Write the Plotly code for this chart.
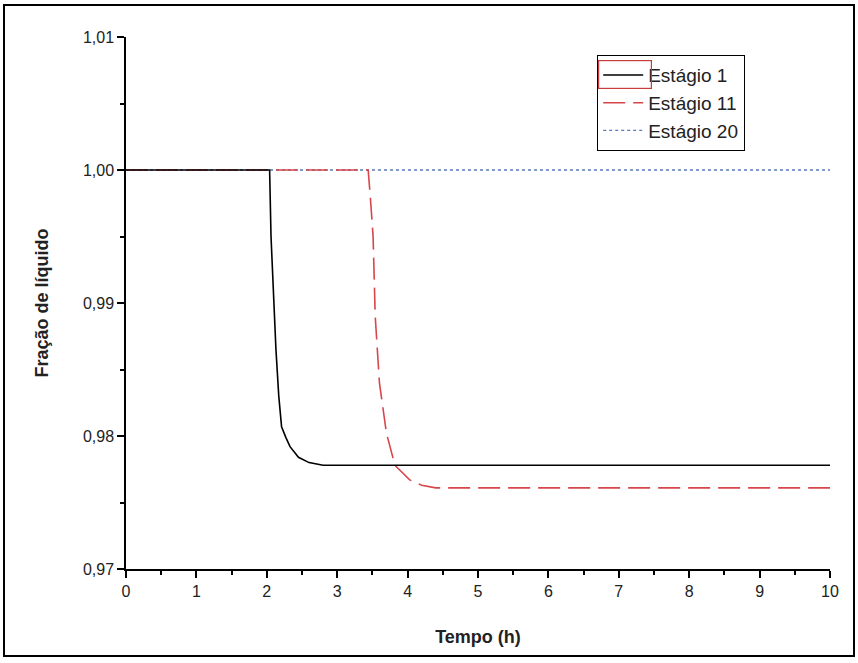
import plotly.graph_objects as go

# Data
t_stage1 = [0, 2.04, 2.06, 2.10, 2.13, 2.17, 2.21, 2.27, 2.33, 2.45, 2.60, 2.80, 10]
y_stage1 = [1.0, 1.0, 0.9950, 0.9900, 0.9865, 0.9830, 0.9807, 0.9799, 0.9792, 0.9784, 0.9780, 0.9778, 0.9778]

t_stage11 = [0, 3.44, 3.47, 3.51, 3.54, 3.60, 3.70, 3.82, 4.03, 4.20, 4.40, 10]
y_stage11 = [1.0, 1.0, 0.9980, 0.9950, 0.9890, 0.9840, 0.9802, 0.9778, 0.9767, 0.9763, 0.9761, 0.9761]

t_stage20 = [0, 10]
y_stage20 = [1.0, 1.0]

names = ["Estágio 1", "Estágio 11", "Estágio 20"]
x_ticks = list(range(0, 11))
y_ticks = [0.97, 0.98, 0.99, 1.00, 1.01]

fig = go.Figure()
fig.add_trace(go.Scatter(x=t_stage20, y=y_stage20, mode="lines", name=names[2],
                         line=dict(color="rgb(90,120,185)", width=1.3, dash="dot"), legendrank=3))
fig.add_trace(go.Scatter(x=t_stage11, y=y_stage11, mode="lines", name=names[1],
                         line=dict(color="rgb(215,70,75)", width=1.6, dash="22px,8px"), legendrank=2))
fig.add_trace(go.Scatter(x=t_stage1, y=y_stage1, mode="lines", name=names[0],
                         line=dict(color="black", width=1.6), legendrank=1))

W, H = 858, 663
L, R, T, B = 126, 28, 37, 94
pw, ph = W - L - R, H - T - B

def px(x):
    return (x - L) / pw

def py(y):
    return (H - B - y) / ph

fig.update_layout(
    width=W, height=H,
    margin=dict(l=L, r=R, t=T, b=B),
    paper_bgcolor="white", plot_bgcolor="white",
    separators=",.",
    font=dict(family="Liberation Sans Narrow, Liberation Sans, Arial", color="#222"),
    showlegend=True,
    legend=dict(x=px(597), y=py(55), xanchor="left", yanchor="top",
                bordercolor="black", borderwidth=1.2, bgcolor="white",
                font=dict(size=19, family="Liberation Sans, Arial", color="#222"),
                tracegroupgap=0, itemwidth=40),
    xaxis=dict(range=[0, 10], tickvals=x_ticks, ticks="outside", ticklen=7, tickwidth=1.5,
               tickcolor="black", showline=True, linecolor="black", linewidth=1.5,
               showgrid=False, zeroline=False, tickfont=dict(size=16),
               minor=dict(dtick=0.5, ticks="outside", ticklen=4, tickwidth=1.5, tickcolor="black", showgrid=False),
               title=dict(text="<b>Tempo (h)</b>", font=dict(size=18, family="Liberation Sans Narrow, Liberation Sans, Arial"), standoff=31)),
    yaxis=dict(range=[0.97, 1.01], tickvals=y_ticks, tickformat=".2f", ticks="outside", ticklen=7,
               tickwidth=1.5, tickcolor="black", showline=True, linecolor="black", linewidth=1.5,
               showgrid=False, zeroline=False, tickfont=dict(size=16),
               minor=dict(dtick=0.005, ticks="outside", ticklen=4, tickwidth=1.5, tickcolor="black", showgrid=False),
               title=dict(text="<b>Fração de líquido</b>", font=dict(size=18, family="Liberation Sans, Arial"), standoff=30)),
    shapes=[
        dict(type="rect", xref="paper", yref="paper",
             x0=px(4), x1=px(854), y0=py(656), y1=py(5),
             line=dict(color="black", width=2), fillcolor="rgba(0,0,0,0)", layer="above"),
    ],
    annotations=[
        dict(xref="paper", yref="paper", x=px(598), y=py(60), xanchor="left", yanchor="top",
             text="", showarrow=False, width=50, height=25,
             bordercolor="rgb(200,60,60)", borderwidth=1.2, bgcolor="rgba(0,0,0,0)"),
    ],
)

fig.write_html("out.html", config={"displayModeBar": False},
               post_script="document.body.style.margin='0';document.body.style.overflow='hidden';")
